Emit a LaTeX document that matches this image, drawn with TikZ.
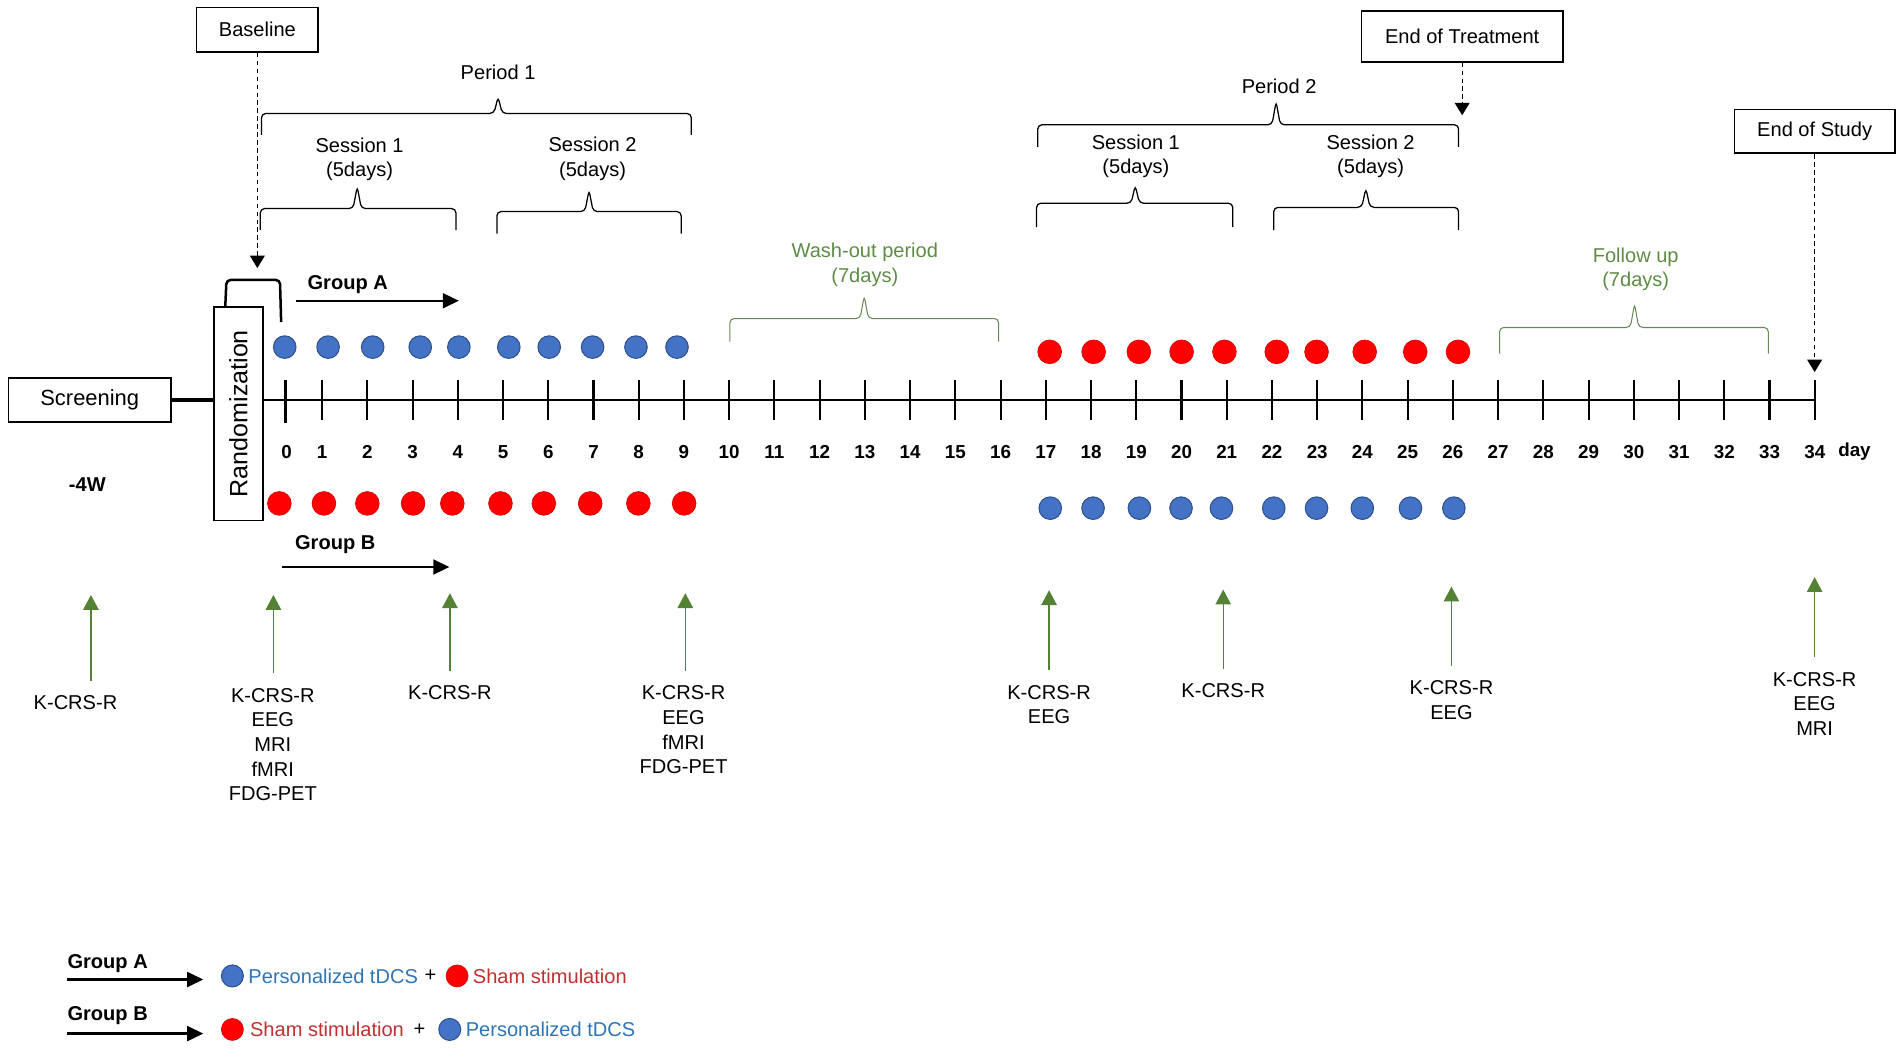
\documentclass[tikz,border=0pt]{standalone}
\usepackage{fontspec}
\setmainfont{Liberation Sans}
\usetikzlibrary{arrows.meta,positioning}

\definecolor{dotblue}{HTML}{4472C4}
\definecolor{dotblueedge}{HTML}{2F528F}
\definecolor{dotred}{HTML}{FF0000}
\definecolor{dotrededge}{HTML}{D80000}
\definecolor{tdcsblue}{HTML}{2E75B6}
\definecolor{shamred}{HTML}{C03030}
\definecolor{evalgreen}{HTML}{548235}
\definecolor{washgreen}{HTML}{5E8C45}

\tikzset{
  txt/.style={align=center, inner sep=0.05cm, font=\fontsize{9.6}{11.8}\selectfont},
  bold/.style={inner sep=0.05cm, font=\fontsize{9.6}{11.8}\selectfont\bfseries},
  num/.style={inner sep=0.03cm, font=\fontsize{9}{10}\selectfont\bfseries},
  box/.style={draw, line width=0.8pt, inner sep=0pt, font=\fontsize{9.6}{11.8}\selectfont},
  bdot/.style={circle, inner sep=0pt, minimum size=0.38cm, fill=dotblue, draw=dotblueedge, line width=0.5pt},
  rdot/.style={circle, inner sep=0pt, minimum size=0.40cm, fill=dotred, draw=dotrededge, line width=0.3pt},
  tbrace/.style={line width=0.6pt, rounded corners=2pt},
  dasharrow/.style={line width=0.6pt, dash pattern=on 2.2pt off 1.6pt, -{Triangle[length=2.1mm,width=2.5mm]}},
  grparrow/.style={line width=1.1pt, -{Triangle[length=2.7mm,width=2.5mm]}},
  evalarrow/.style={evalgreen, line width=0.6pt, shorten <=0.19cm, -{Triangle[length=2.5mm,width=2.6mm]}},
}

\begin{document}
\begin{tikzpicture}
    \useasboundingbox (0,0) rectangle (32,17.82);

    % milestones
    \node[box, minimum width=2.05cm, minimum height=0.75cm] (base) at (4.33,17.32) {Baseline};
    \node[box, minimum width=3.39cm, minimum height=0.86cm] (eot) at (24.60,17.21) {End of Treatment};
    \node[box, minimum width=2.70cm, minimum height=0.74cm] (eos) at (30.53,15.61) {End of Study};
    \coordinate (bt) at (4.33,13.31);
    \coordinate (et) at (24.60,15.88);
    \coordinate (st) at (30.53,11.56);
    \draw[dasharrow] (base) -- (bt);
    \draw[dasharrow] (eot) -- (et);
    \draw[dasharrow] (eos) -- (st);

    % periods and sessions
    \node[txt] (p1) at (8.38,16.61) {Period 1};
    \node[txt] (p2) at (21.52,16.37) {Period 2};
    \node[txt] (s1a) at (6.05,15.14) {Session 1\\(5days)};
    \node[txt] (s2a) at (9.97,15.15) {Session 2\\(5days)};
    \node[txt] (s1b) at (19.11,15.19) {Session 1\\(5days)};
    \node[txt] (s2b) at (23.06,15.19) {Session 2\\(5days)};
    \node[txt, text=washgreen] (wash) at (14.55,13.36) {Wash-out period\\(7days)};
    \node[txt, text=washgreen] (fup) at (27.52,13.29) {Follow up\\(7days)};

    \foreach \xa/\xb/\xm/\ye/\yb/\yt in {4.40/11.63/8.38/15.55/15.91/16.19, 4.38/7.67/6.01/13.95/14.31/14.68,
        8.36/11.46/9.91/13.89/14.26/14.62, 17.46/24.54/21.47/15.35/15.72/16.11,
        17.44/20.74/19.10/14.00/14.40/14.70, 21.43/24.54/22.98/13.95/14.33/14.65}
        \draw[tbrace] (\xa,\ye) -- (\xa,\yb) -- (\xm-0.07,\yb) -- (\xm,\yt) -- (\xm+0.07,\yb) -- (\xb,\yb) -- (\xb,\ye);
    \foreach \xa/\xb/\xm/\ye/\yb/\yt in {12.28/16.80/14.54/12.07/12.46/12.84, 25.23/29.75/27.50/11.87/12.31/12.71}
        \draw[tbrace, washgreen!70!gray, line width=0.5pt] (\xa,\ye) -- (\xa,\yb) -- (\xm-0.07,\yb) -- (\xm,\yt) -- (\xm+0.07,\yb) -- (\xb,\yb) -- (\xb,\ye);

    % time line
    \coordinate (d34) at (30.53,11.09);
    \node[box, minimum width=2.73cm, minimum height=0.74cm, font=\fontsize{10.5}{12}\selectfont] (scr) at (1.51,11.09) {Screening};
    \node[box, rotate=90, minimum width=3.60cm, minimum height=0.83cm, font=\fontsize{12}{14}\selectfont] (rand) at (4.01,10.86) {Randomization};
    \node[bold] (wk) at (1.47,9.66) {-4W};
    \draw[line width=1.8pt] (scr.east) -- (scr.east -| rand.north);
    \draw[line width=1.3pt] (rand.south |- d34) -- (d34);
    \draw[line width=1.2pt, rounded corners=2pt] (3.79,12.66) -- (3.81,13.11) -- (4.71,13.11) -- (4.73,12.40);

    \foreach \n in {1,...,34} {
        \draw[line width=1pt] ({4.658+0.761*\n},10.75) -- ++(0,0.68);
        \node[num] (n\n) at ({4.658+0.761*\n},10.22) {\n};
    }
    \draw[line width=1.6pt] (4.80,10.70) -- (4.80,11.43);
    \node[num] (n0) at (4.82,10.22) {0};
    \node[num] (dayl) at (31.20,10.22) {day};

    % groups
    \node[bold] (grpa) at (5.85,13.04) {Group A};
    \node[bold] (grpb) at (5.64,8.65) {Group B};
    \coordinate (ga0) at (4.98,12.76);
    \coordinate (ga1) at (7.72,12.76);
    \coordinate (gb0) at (4.75,8.28);
    \coordinate (gb1) at (7.56,8.28);
    \draw[grparrow] (ga0) -- (ga1);
    \draw[grparrow] (gb0) -- (gb1);

    \foreach \x [count=\i] in {4.79,5.52,6.27,7.07,7.72,8.56,9.24,9.97,10.70,11.39}
        \node[bdot] (a1\i) at (\x,11.98) {};
    \foreach \x [count=\i] in {4.70,5.45,6.18,6.95,7.61,8.42,9.15,9.93,10.74,11.51}
        \node[rdot] (b1\i) at (\x,9.35) {};
    \foreach \x [count=\i] in {17.66,18.40,19.16,19.88,20.60,21.48,22.15,22.96,23.81,24.53}
        \node[rdot] (a2\i) at (\x,11.90) {};
    \foreach \x [count=\i] in {17.67,18.39,19.17,19.87,20.55,21.43,22.15,22.92,23.73,24.46}
        \node[bdot] (b2\i) at (\x,9.27) {};

    % assessments
    \foreach \i/\xl/\yl/\xt/\ya/\evtext in {1/1.27/6.18/1.53/7.81/K-CRS-R,
        2/4.59/6.30/4.60/7.81/{K-CRS-R\\EEG\\MRI\\fMRI\\FDG-PET},
        3/7.57/6.34/7.57/7.84/K-CRS-R,
        4/11.50/6.34/11.53/7.84/{K-CRS-R\\EEG\\fMRI\\FDG-PET},
        5/17.65/6.35/17.65/7.89/{K-CRS-R\\EEG},
        6/20.58/6.37/20.58/7.90/K-CRS-R,
        7/24.42/6.43/24.42/7.95/{K-CRS-R\\EEG},
        8/30.53/6.57/30.53/8.11/{K-CRS-R\\EEG\\MRI}} {
        \node[txt, anchor=north] (m\i) at (\xl,\yl) {\evtext};
        \coordinate (t\i) at (\xt,\ya);
        \draw[evalarrow] (t\i |- m\i.north) -- (t\i);
    }

    % legend
    \node[bold, anchor=west, inner sep=0pt] (lga) at (1.13,1.61) {Group A};
    \coordinate (la0) at (1.13,1.34);
    \coordinate (la1) at (3.42,1.34);
    \draw[grparrow] (la0) -- (la1);
    \node[bdot, minimum size=0.37cm] (la2) at (3.91,1.40) {};
    \node[txt, text=tdcsblue, right=0.02cm of la2] (la3) {Personalized tDCS};
    \node[txt, right=0cm of la3] (la4) {+};
    \node[rdot, minimum size=0.37cm, right=0.1cm of la4] (la5) {};
    \node[txt, text=shamred, right=0.02cm of la5] (la6) {Sham stimulation};

    \node[bold, anchor=west, inner sep=0pt] (lgb) at (1.13,0.74) {Group B};
    \coordinate (lb0) at (1.13,0.43);
    \coordinate (lb1) at (3.42,0.43);
    \draw[grparrow] (lb0) -- (lb1);
    \node[rdot, minimum size=0.37cm] (lb2) at (3.91,0.50) {};
    \node[txt, text=shamred, right=0.05cm of lb2] (lb3) {Sham stimulation};
    \node[txt, right=0.05cm of lb3] (lb4) {+};
    \node[bdot, minimum size=0.37cm, right=0.16cm of lb4] (lb5) {};
    \node[txt, text=tdcsblue, right=0.02cm of lb5] (lb6) {Personalized tDCS};

\end{tikzpicture}
\end{document}
